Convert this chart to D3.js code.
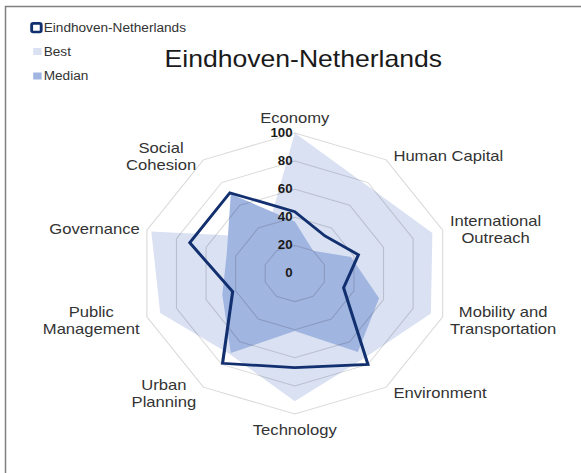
<!DOCTYPE html>
<html><head><meta charset="utf-8">
<script src="https://cdn.jsdelivr.net/npm/d3@7"></script>
<style>body{margin:0;background:#fff} svg{display:block}</style>
</head><body>
<svg id="chart" width="581" height="473"></svg>
<script>
// ---- data ----
const categories = ["Economy","Human Capital","International Outreach","Mobility and Transportation","Environment","Technology","Urban Planning","Public Management","Governance","Social Cohesion"];
const categoryLines = [["Economy"],["Human Capital"],["International","Outreach"],["Mobility and","Transportation"],["Environment"],["Technology"],["Urban","Planning"],["Public","Management"],["Governance"],["Social","Cohesion"]];
const eindhoven = [44,33,43,33,80,67,79,42,71,71];
const best      = [100,78,93,92,75,91,71,91,97,32];
const median    = [37,20,38,57,69,41,70,49,46,70];
const ticks = [0,20,40,60,80,100];
const seriesNames = ["Eindhoven-Netherlands","Best","Median"];
const title = "Eindhoven-Netherlands";

// ---- layout ----
const font = "'Liberation Sans', Arial, sans-serif";
const sx = 1.107;
const cx = 266.3, cy = 273.5, R = 140.5;
const colBest = "#dae1f2", colMedian = "#a1b5e1", colLine = "#12306f";

const svg = d3.select("#chart");
svg.append("rect").attr("x",5.5).attr("y",6.5).attr("width",640).attr("height",520)
  .attr("fill","#fff").attr("stroke","#7f7f7f").attr("stroke-width",1.5);

const root = svg.append("g").attr("transform",`scale(${sx},1)`);

const r = d3.scaleLinear().domain([0,100]).range([0,R]);
const ang = d3.scaleLinear().domain([0,categories.length]).range([0,2*Math.PI]);
const pt = (i,v) => [cx + r(v)*Math.sin(ang(i)), cy - r(v)*Math.cos(ang(i))];
const poly = d3.line().curve(d3.curveLinearClosed);

// fills
root.append("path").attr("d", poly(best.map((v,i)=>pt(i,v)))).attr("fill",colBest);
root.append("path").attr("d", poly(median.map((v,i)=>pt(i,v)))).attr("fill",colMedian);

// grid
ticks.filter(t=>t>0).forEach(t=>{
  root.append("path").attr("d", poly(categories.map((c,i)=>pt(i,t))))
    .attr("fill","none").attr("stroke","#000").attr("stroke-opacity",0.15).attr("stroke-width",1);
});

// Eindhoven line
root.append("path").attr("d", poly(eindhoven.map((v,i)=>pt(i,v))))
  .attr("fill","none").attr("stroke",colLine).attr("stroke-width",2.8).attr("stroke-linejoin","miter");

// tick labels
ticks.forEach(t=>{
  root.append("text").attr("x",cx-2).attr("y",cy - r(t))
    .attr("text-anchor","end").attr("dominant-baseline","central")
    .attr("font-family",font).attr("font-weight","bold").attr("font-size",12)
    .attr("fill","#1a1a1a").text(t);
});

// axis labels
const fs = 15, lh = 17;
categories.forEach((c,i)=>{
  const [vx,vy] = pt(i,100);
  const s = Math.sin(ang(i)), co = Math.cos(ang(i));
  const lines = categoryLines[i];
  const tx = root.append("text").attr("text-anchor","middle")
    .attr("font-family",font).attr("font-size",fs).attr("fill","#333");
  const spans = lines.map(l=>tx.append("tspan").text(l));
  let w = 0; spans.forEach(sp=>{ w = Math.max(w, sp.node().getComputedTextLength()); });
  let x, ymid;
  if (Math.abs(s) < 1e-6) {
    x = vx; ymid = co > 0 ? vy - 15 : vy + 16;
  } else {
    x = vx + Math.sign(s)*(6.5 + w/2);
    ymid = vy - co*6 + 1;
  }
  const y0 = ymid - (lines.length-1)*lh/2 + fs*0.35;
  spans.forEach((sp,k)=> sp.attr("x",x).attr("y",y0 + k*lh));
});

// title
root.append("text").attr("x",274).attr("y",66.7).attr("text-anchor","middle")
  .attr("font-family",font).attr("font-size",24).attr("fill","#1a1a1a").text(title);

// legend
const lg = root.append("g");
const legY = [31.7, 56, 80];
lg.append("rect").attr("x",28.6).attr("y",23.4).attr("width",8.6).attr("height",8.6).attr("rx",1.5)
  .attr("fill","#fff").attr("stroke",colLine).attr("stroke-width",2.6);
lg.append("rect").attr("x",30).attr("y",48).attr("width",7.6).attr("height",7).attr("fill",colBest);
lg.append("rect").attr("x",30).attr("y",72.5).attr("width",7.6).attr("height",7).attr("fill",colMedian);
seriesNames.forEach((n,k)=>{
  lg.append("text").attr("x",39.5).attr("y",legY[k]).attr("font-family",font).attr("font-size",12.3)
    .attr("fill","#333").text(n);
});
</script>
</body></html>
